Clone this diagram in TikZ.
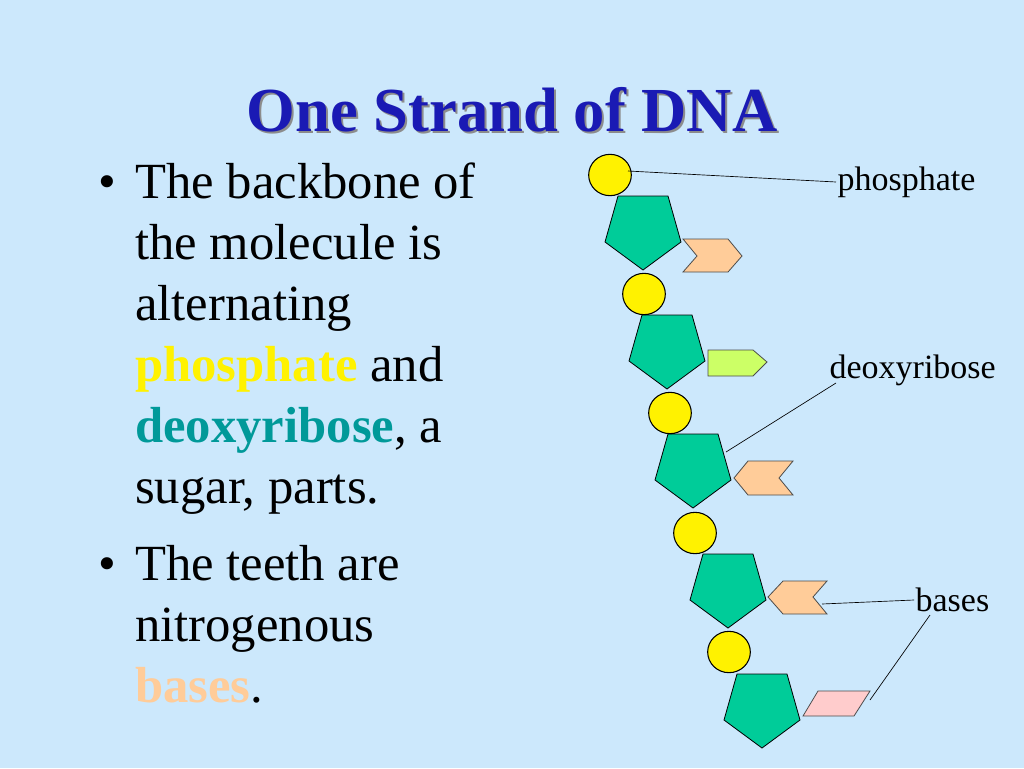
\documentclass[tikz,border=0pt]{standalone}
\usepackage{fontspec}
\setmainfont{Liberation Serif}
\usetikzlibrary{shapes.geometric}
\definecolor{bg}{HTML}{CCE8FC}
\definecolor{titleblue}{HTML}{1A1AB4}
\definecolor{teal}{HTML}{00CC99}
\definecolor{tealtxt}{HTML}{009999}
\definecolor{peach}{HTML}{FFCC99}
\definecolor{lime}{HTML}{CCFF66}
\definecolor{pinkb}{HTML}{FFCCCC}
\begin{document}
\begin{tikzpicture}[x=0.75pt,y=-0.75pt,
  phos/.style={draw=black,fill=yellow,ellipse,line width=0.8pt},
  sug/.style={draw=black,fill=teal,line width=0.6pt},
  base/.style={draw=black!70,line width=0.6pt},
  lead/.style={draw=black,line width=0.5pt},
  body/.style={anchor=base west,font=\fontsize{38}{44}\selectfont,inner sep=0},
  lab/.style={font=\fontsize{25.5}{30}\selectfont,inner sep=1pt}]
\fill[bg] (0,0) rectangle (1024,768);
\useasboundingbox (0,0) rectangle (1024,768);
% title
\node[font=\fontsize{47}{54}\selectfont\bfseries,text=black!45] at (514,112) {One Strand of DNA};
\node (title) [font=\fontsize{47}{54}\selectfont\bfseries,text=titleblue] at (512,110) {One Strand of DNA};
% text
\node (b1) [body] at (98,198) {•};
\node (t1) [body] at (135,198) {The backbone of};
\node (t2) [body] at (135,259) {the molecule is};
\node (t3) [body] at (135,320) {alternating};
\node (t4) [body] at (135,381) {\textcolor{yellow}{\bfseries phosphate} and};
\node (t5) [body] at (135,442) {\textcolor{tealtxt}{\bfseries deoxyribose}, a};
\node (t6) [body] at (135,503) {sugar, parts.};
\node (b2) [body] at (98,580) {•};
\node (t7) [body] at (135,580) {The teeth are};
\node (t8) [body] at (135,641) {nitrogenous};
\node (t9) [body] at (135,702) {\textcolor{peach}{\bfseries bases}.};
% sugars
\foreach \cx/\cy in {643/196,667/315,693/434,728/554,762/674}{
  \draw[sug] (\cx-25,\cy) -- (\cx+25,\cy) -- (\cx+38,\cy+46) -- (\cx,\cy+74) -- (\cx-38,\cy+46) -- cycle;
}
% phosphates
\foreach \n/\x/\y in {p1/610/175,p2/644/294,p3/670/413,p4/695/533,p5/729/652}{
  \node (\n) [phos,minimum width=32pt,minimum height=31pt,inner sep=0] at (\x,\y) {};
}
% bases
\draw[base,fill=peach] (683,239) -- (728,239) -- (742,256) -- (728,272) -- (683,272) -- (697,256) -- cycle;
\draw[base,fill=lime] (708,350) -- (753,350) -- (767,362) -- (753,376) -- (708,376) -- cycle;
\draw[base,fill=peach] (734,478) -- (748,461) -- (793,461) -- (779,478) -- (793,495) -- (748,495) -- cycle;
\draw[base,fill=peach] (768,597) -- (783,581) -- (827,581) -- (813,597) -- (827,614) -- (783,614) -- cycle;
\draw[base,fill=pinkb] (803,716) -- (818,691) -- (870,691) -- (854,716) -- cycle;
% labels
\node (lp) [lab,anchor=west] at (836,182) {phosphate};
\node (ld) [lab,anchor=west] at (828,370) {deoxyribose};
\node (lb) [lab,anchor=west] at (914,600) {bases};
\coordinate (cp) at (628,171);
\coordinate (cd) at (726,452);
\coordinate (cd2) at (836,383);
\coordinate (cb1) at (822,604);
\coordinate (cb2) at (870,700);
\coordinate (cb3) at (930,615);
\draw[lead] (cp) -- (lp.west);
\draw[lead] (cd) -- (cd2);
\draw[lead] (cb1) -- (lb.west);
\draw[lead] (cb2) -- (cb3);
\end{tikzpicture}
\end{document}
